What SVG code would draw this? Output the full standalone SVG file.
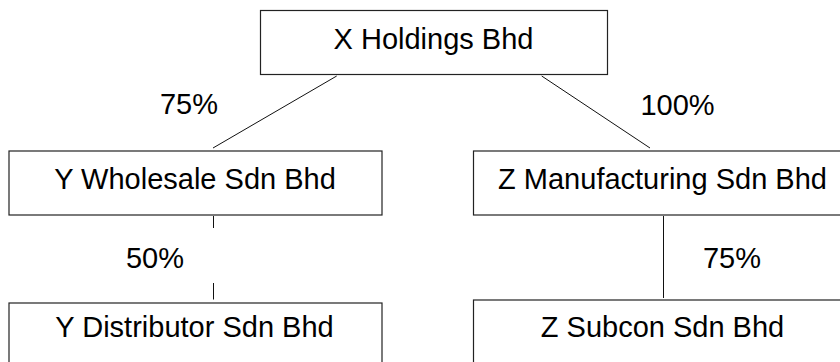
<svg xmlns="http://www.w3.org/2000/svg" width="840" height="362" viewBox="0 0 840 362">
<style>
.box{fill:#fff;stroke:#222;stroke-width:1.2}
.lbl{font-family:"Liberation Sans",Arial,sans-serif;font-size:29px;fill:#000;text-anchor:middle}
.con{stroke:#111;stroke-width:1;fill:none}
</style>
<rect width="840" height="362" fill="#fff"/>
<g id="connectors">
<line class="con" x1="336.7" y1="76" x2="213" y2="148"/>
<line class="con" x1="541.7" y1="76" x2="650" y2="148"/>
<line class="con" x1="213.5" y1="216" x2="213.5" y2="228"/>
<line class="con" x1="213.5" y1="283" x2="213.5" y2="299.5"/>
<line class="con" x1="663.5" y1="216" x2="663.5" y2="298"/>
<text class="lbl" x="189" y="114.3">75%</text>
<text class="lbl" x="677.5" y="115">100%</text>
<text class="lbl" x="155" y="268.3">50%</text>
<text class="lbl" x="732" y="268.3">75%</text>
</g>
<g id="x-holdings">
<rect class="box" x="260.5" y="10.5" width="347" height="64"/>
<text class="lbl" x="433.5" y="49">X Holdings Bhd</text>
</g>
<g id="y-wholesale">
<rect class="box" x="9" y="151" width="373" height="64"/>
<text class="lbl" x="195" y="189.3">Y Wholesale Sdn Bhd</text>
</g>
<g id="z-manufacturing">
<rect class="box" x="473.5" y="151" width="380" height="64"/>
<text class="lbl" x="662.5" y="189.3">Z Manufacturing Sdn Bhd</text>
</g>
<g id="y-distributor">
<rect class="box" x="9" y="303" width="373" height="64"/>
<text class="lbl" x="194.5" y="337">Y Distributor Sdn Bhd</text>
</g>
<g id="z-subcon">
<rect class="box" x="473.5" y="300" width="380" height="70"/>
<text class="lbl" x="662.5" y="336.7">Z Subcon Sdn Bhd</text>
</g>
</svg>
